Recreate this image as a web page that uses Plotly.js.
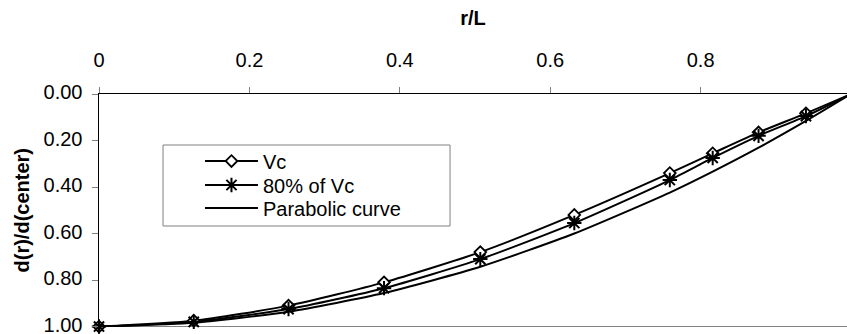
<!DOCTYPE html>
<html><head><meta charset="utf-8">
<script src="https://cdn.plot.ly/plotly-3.0.1.min.js"></script>
<style>html,body{margin:0;padding:0;background:#fff;overflow:hidden}</style>
</head><body><div id="chart" style="width:847px;height:334px"></div>
<script>
var rL = [0, 0.126, 0.252, 0.379, 0.507, 0.632, 0.759, 0.816, 0.877, 0.94, 1.0];
var vc = [1.00, 0.975, 0.91, 0.81, 0.68, 0.52, 0.34, 0.255, 0.165, 0.083, 0.00];
var vc80 = [1.00, 0.98, 0.925, 0.835, 0.71, 0.555, 0.37, 0.275, 0.18, 0.095, 0.00];
var parabolic = [1.00, 0.984, 0.936, 0.856, 0.743, 0.60, 0.424, 0.334, 0.231, 0.116, 0.00];
var names = ["Vc", "80% of Vc", "Parabolic curve"];
var xTicks = [0, 0.2, 0.4, 0.6, 0.8];
var xTickText = ["0", "0.2", "0.4", "0.6", "0.8"];
var yTicks = [0, 0.2, 0.4, 0.6, 0.8, 1.0];
var yTickText = ["0.00", "0.20", "0.40", "0.60", "0.80", "1.00"];
var xTitle = "r/L";
var yTitle = "d(r)/d(center)";

var F = "Liberation Sans, Arial, sans-serif";
var FS = 20;
var traces = [
  {x: rL, y: vc, name: names[0], mode: "lines+markers", line: {color: "#000", width: 2, shape: "spline", smoothing: 0.6},
   marker: {symbol: "diamond", size: 9, color: "#fff", line: {color: "#000", width: 1.8}}, cliponaxis: false, legend: "legend"},
  {x: rL, y: vc80, name: names[1], mode: "lines+markers", line: {color: "#000", width: 2, shape: "spline", smoothing: 0.6},
   marker: {symbol: "asterisk-open", size: 12, color: "#000", line: {color: "#000", width: 2}}, cliponaxis: false, legend: "legend2"},
  {x: rL, y: parabolic, name: names[2], mode: "lines", line: {color: "#000", width: 2, shape: "spline", smoothing: 0.6},
   cliponaxis: false, legend: "legend3"}
];
function leg(y) {
  return {x: 0.135, xanchor: "left", y: y, yanchor: "middle", bgcolor: "rgba(0,0,0,0)", borderwidth: 0,
    itemwidth: 53, font: {family: F, size: FS, color: "#000"}};
}
var layout = {
  width: 847, height: 334,
  margin: {l: 99, r: 0, t: 94, b: 7},
  paper_bgcolor: "#fff", plot_bgcolor: "#fff",
  font: {family: F, size: FS, color: "#000"},
  showlegend: true,
  legend: leg(0.7124), legend2: leg(0.6094), legend3: leg(0.5107),
  xaxis: {side: "top", range: [0, 0.9946], tickvals: xTicks, ticktext: xTickText,
    ticks: "outside", ticklen: 6, tickcolor: "#808080", tickwidth: 1, ticklabelstandoff: 12,
    ticklabeloverflow: "allow",
    showline: true, linecolor: "#000", linewidth: 1.5, showgrid: false, zeroline: false,
    tickfont: {family: F, size: FS}, fixedrange: true,
    title: {text: "<b>" + xTitle + "</b>", font: {family: F, size: FS}, standoff: 17}},
  yaxis: {range: [1.002, 0], tickvals: yTicks, ticktext: yTickText,
    ticks: "outside", ticklen: 6, tickcolor: "#808080", tickwidth: 1, ticklabelstandoff: 5,
    ticklabeloverflow: "allow", ticklabelshift: 2,
    showline: true, linecolor: "#000", linewidth: 1.5, showgrid: false, zeroline: false,
    tickfont: {family: F, size: FS}, fixedrange: true},
  annotations: [
    {text: "<b>" + yTitle + "</b>", xref: "paper", yref: "paper", x: -0.103, y: 0.5,
     xanchor: "center", yanchor: "middle", textangle: -90, showarrow: false, font: {family: F, size: FS, color: "#000"}}
  ],
  shapes: [
    {type: "line", xref: "paper", yref: "y", x0: 0, x1: 1, y0: 1, y1: 1, line: {color: "#808080", width: 1}, layer: "below"},
    {type: "rect", xref: "paper", yref: "paper", x0: 0.0856, x1: 0.4693, y0: 0.4335, y1: 0.7811,
      line: {color: "#808080", width: 1}, fillcolor: "#fff", layer: "above"}
  ]
};
Plotly.newPlot("chart", traces, layout, {displayModeBar: false, staticPlot: true});
</script></body></html>
